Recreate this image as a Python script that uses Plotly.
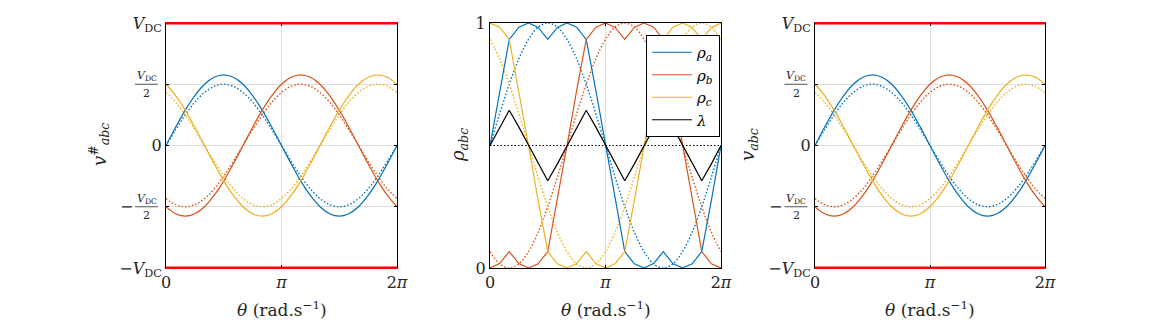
import plotly.graph_objects as go

# ---------------- data ----------------
theta_deg = [0, 15, 30, 45, 60, 75, 90, 105, 120, 135, 150, 165, 180,
             195, 210, 225, 240, 255, 270, 285, 300, 315, 330, 345, 360]

# modulated references (solid), in units of V_DC
v_a = [0, .149, .289, .408, .5, .557, .577, .557, .5, .408, .289, .149, 0,
       -.149, -.289, -.408, -.5, -.557, -.577, -.557, -.5, -.408, -.289, -.149, 0]
v_b = [-.5, -.557, -.577, -.557, -.5, -.408, -.289, -.149, 0, .149, .289, .408, .5,
       .557, .577, .557, .5, .408, .289, .149, 0, -.149, -.289, -.408, -.5]
v_c = [.5, .408, .289, .149, 0, -.149, -.289, -.408, -.5, -.557, -.577, -.557, -.5,
       -.408, -.289, -.149, 0, .149, .289, .408, .5, .557, .577, .557, .5]

# sinusoidal references (dotted), in units of V_DC
vs_a = [0, .129, .25, .354, .433, .483, .5, .483, .433, .354, .25, .129, 0,
        -.129, -.25, -.354, -.433, -.483, -.5, -.483, -.433, -.354, -.25, -.129, 0]
vs_b = [-.433, -.483, -.5, -.483, -.433, -.354, -.25, -.129, 0, .129, .25, .354, .433,
        .483, .5, .483, .433, .354, .25, .129, 0, -.129, -.25, -.354, -.433]
vs_c = [.433, .354, .25, .129, 0, -.129, -.25, -.354, -.433, -.483, -.5, -.483, -.433,
        -.354, -.25, -.129, 0, .129, .25, .354, .433, .483, .5, .483, .433]

# duty cycles (solid)
rho_a = [.5, .724, .933, .983, 1.0, .982, .933, .982, 1.0, .983, .933, .724, .5,
         .276, .067, .017, 0, .018, .067, .018, 0, .017, .067, .276, .5]
rho_b = [0, .018, .067, .018, 0, .017, .067, .276, .5, .724, .933, .983, 1.0,
         .982, .933, .982, 1.0, .983, .933, .724, .5, .276, .067, .017, 0]
rho_c = [1.0, .983, .933, .724, .5, .276, .067, .017, 0, .018, .067, .018, 0,
         .017, .067, .276, .5, .724, .933, .983, 1.0, .982, .933, .982, 1.0]
lam = [.5, .575, .644, .575, .5, .425, .356, .425, .5, .575, .644, .575, .5,
       .425, .356, .425, .5, .575, .644, .575, .5, .425, .356, .425, .5]

# duty cycles (dotted, sinusoidal)
rhos_a = [.5, .629, .75, .854, .933, .983, 1, .983, .933, .854, .75, .629, .5,
          .371, .25, .146, .067, .017, 0, .017, .067, .146, .25, .371, .5]
rhos_b = [.067, .017, 0, .017, .067, .146, .25, .371, .5, .629, .75, .854, .933,
          .983, 1, .983, .933, .854, .75, .629, .5, .371, .25, .146, .067]
rhos_c = [.933, .854, .75, .629, .5, .371, .25, .146, .067, .017, 0, .017, .067,
          .146, .25, .371, .5, .629, .75, .854, .933, .983, 1, .983, .933]

bound_x = [0, 360]
vdc_hi = [1, 1]
vdc_lo = [-1, -1]
half_level = [0.5, 0.5]

x_tickvals = [0, 180, 360]
x_ticktext = ["0", "<i>π</i>", "2<i>π</i>"]
v_tickvals = [-1, -0.5, 0, 0.5, 1]
v_ticktext = ["−<i>V</i><sub>DC</sub>", "", "0", "", "<i>V</i><sub>DC</sub>"]
rho_tickvals = [0, 1]
rho_ticktext = ["0", "1"]

# ---------------- styling ----------------
BLUE, RED, YEL = "#0072BD", "#D95319", "#EDB120"
FONT = "DejaVu Serif"
TXT = "#262626"
DOT = "1.5px,2px"
W, H = 1155, 324

fig = go.Figure()

def add_v_plot(xa, ya):
    for ys, c in [(vs_a, BLUE), (vs_b, RED), (vs_c, YEL)]:
        fig.add_trace(go.Scatter(x=theta_deg, y=ys, mode="lines", xaxis=xa, yaxis=ya,
                                 line=dict(color=c, width=1.4, dash=DOT, shape="spline"),
                                 showlegend=False, hoverinfo="skip"))
    for ys, c in [(v_a, BLUE), (v_b, RED), (v_c, YEL)]:
        fig.add_trace(go.Scatter(x=theta_deg, y=ys, mode="lines", xaxis=xa, yaxis=ya,
                                 line=dict(color=c, width=1.2, shape="spline"),
                                 showlegend=False, hoverinfo="skip"))
    for ys in (vdc_hi, vdc_lo):
        fig.add_trace(go.Scatter(x=bound_x, y=ys, mode="lines", xaxis=xa, yaxis=ya,
                                 line=dict(color="#FF0000", width=3),
                                 showlegend=False, hoverinfo="skip"))

add_v_plot("x", "y")

# middle plot
for ys, c in [(rhos_a, BLUE), (rhos_b, RED), (rhos_c, YEL)]:
    fig.add_trace(go.Scatter(x=theta_deg, y=ys, mode="lines", xaxis="x2", yaxis="y2",
                             line=dict(color=c, width=1.4, dash=DOT, shape="spline"),
                             showlegend=False, hoverinfo="skip"))
fig.add_trace(go.Scatter(x=bound_x, y=half_level, mode="lines", xaxis="x2", yaxis="y2",
                         line=dict(color="black", width=1.2, dash=DOT),
                         showlegend=False, hoverinfo="skip"))
for ys, c, nm in [(rho_a, BLUE, "<i>ρ</i><sub><i>a</i></sub>"),
                  (rho_b, RED, "<i>ρ</i><sub><i>b</i></sub>"),
                  (rho_c, YEL, "<i>ρ</i><sub><i>c</i></sub>"),
                  (lam, "black", "<i>λ</i>")]:
    fig.add_trace(go.Scatter(x=theta_deg, y=ys, mode="lines", xaxis="x2", yaxis="y2",
                             name=nm, line=dict(color=c, width=1.2),
                             showlegend=True, hoverinfo="skip"))

add_v_plot("x3", "y3")

xdoms = [[166 / W, 397 / W], [490 / W, 721 / W], [815 / W, 1045 / W]]
ydom = [1 - 268 / H, 1 - 23 / H]

def xax(dom, anchor, linecolor, linewidth):
    return dict(domain=dom, anchor=anchor, range=[0, 360], tickmode="array",
                tickvals=x_tickvals, ticktext=x_ticktext,
                showgrid=True, gridcolor="#DEDEDE", gridwidth=1, zeroline=False,
                showline=True, linecolor=linecolor, linewidth=linewidth, mirror="ticks",
                ticks="inside", ticklen=3, tickcolor="black", tickwidth=1,
                tickfont=dict(family=FONT, size=16, color=TXT))

common_y = dict(tickmode="array", showgrid=True, gridcolor="#DEDEDE", gridwidth=1,
                zeroline=False, showline=True, linecolor="black", linewidth=1,
                mirror="ticks", ticks="inside", ticklen=3, tickcolor="black",
                tickfont=dict(family=FONT, size=16, color=TXT))

fig.update_layout(
    width=W, height=H,
    margin=dict(l=0, r=0, t=0, b=0, autoexpand=False),
    paper_bgcolor="white", plot_bgcolor="white",
    font=dict(family=FONT, color=TXT),
    xaxis=xax(xdoms[0], "y", "#FF0000", 1),
    yaxis=dict(domain=ydom, anchor="x", range=[-1, 1], tickvals=v_tickvals,
               ticktext=v_ticktext, **common_y),
    xaxis2=xax(xdoms[1], "y2", "black", 1),
    yaxis2=dict(domain=ydom, anchor="x2", range=[0, 1], tickvals=rho_tickvals,
                ticktext=rho_ticktext, **common_y),
    xaxis3=xax(xdoms[2], "y3", "#FF0000", 1),
    yaxis3=dict(domain=ydom, anchor="x3", range=[-1, 1], tickvals=v_tickvals,
                ticktext=v_ticktext, **common_y),
    showlegend=True,
    legend=dict(x=720 / W, y=1 - 35 / H, xanchor="right", yanchor="top",
                bgcolor="white", bordercolor="black", borderwidth=1,
                font=dict(family=FONT, size=15, color="black"),
                tracegroupgap=0, itemwidth=40),
)

ann = []
shapes = []
# fractional tick labels V_DC/2
for yref, xc, half_w in [("y", 146.5, 11.5), ("y3", 796, 11.5)]:
    for sgn in (1, -1):
        ann.append(dict(xref="paper", yref=yref, x=xc / W, y=0.5 * sgn, yshift=8,
                        xanchor="center", yanchor="middle",
                        text="<i>V</i><sub>DC</sub>", showarrow=False,
                        font=dict(family=FONT, size=11, color=TXT)))
        ann.append(dict(xref="paper", yref=yref, x=xc / W, y=0.5 * sgn, yshift=-9,
                        xanchor="center", yanchor="middle",
                        text="2", showarrow=False,
                        font=dict(family=FONT, size=11, color=TXT)))
        shapes.append(dict(type="line", xref="paper", yref=yref,
                           x0=(xc - half_w) / W, x1=(xc + half_w) / W,
                           y0=0.5 * sgn, y1=0.5 * sgn,
                           line=dict(color=TXT, width=0.8)))
    ann.append(dict(xref="paper", yref=yref, x=(xc - half_w - 9) / W, y=-0.5,
                    xanchor="center", yanchor="middle",
                    text="−", showarrow=False,
                    font=dict(family=FONT, size=16, color=TXT)))

# axis titles
for xc, txt in [(99, "<i>v</i><sup>#</sup><sub><i>abc</i></sub>"),
                (459, "<i>ρ</i><sub><i>abc</i></sub>"),
                (749, "<i>v</i><sub><i>abc</i></sub>")]:
    ann.append(dict(xref="paper", yref="paper", x=xc / W, y=1 - 145 / H,
                    xanchor="center", yanchor="middle",
                    text=txt, textangle=-90, showarrow=False,
                    font=dict(family=FONT, size=18, color=TXT)))
for xc in (281.5, 605.5, 930):
    ann.append(dict(xref="paper", yref="paper", x=xc / W, y=1 - 309 / H,
                    xanchor="center", yanchor="middle",
                    text="<i>θ</i> (rad.s<sup>−1</sup>)", showarrow=False,
                    font=dict(family=FONT, size=17, color=TXT)))

fig.update_layout(annotations=ann, shapes=shapes)
fig.write_html("out.html")
